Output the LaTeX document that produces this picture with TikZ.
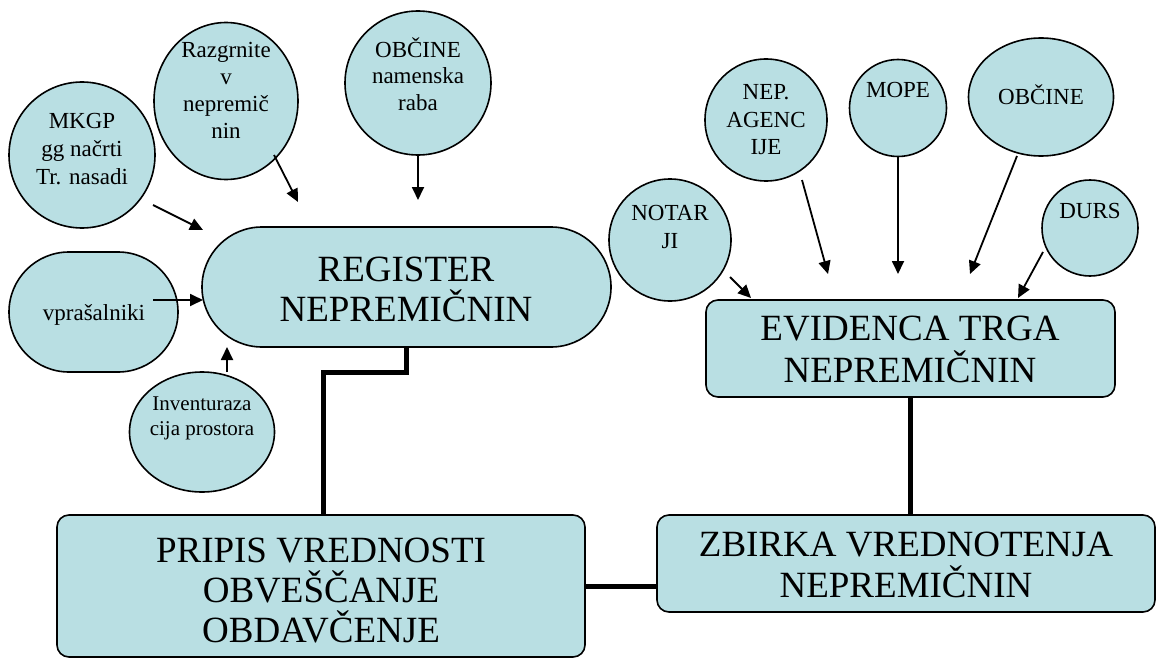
\documentclass[tikz,border=0pt]{standalone}
\usepackage{fontspec}
\setmainfont{Liberation Serif}
\usetikzlibrary{shapes.geometric,arrows.meta,calc}
\definecolor{boxfill}{RGB}{185,223,227}
\begin{document}
\begin{tikzpicture}[x=1pt,y=-1pt,
  shp/.style={draw=black,line width=1.6pt,fill=boxfill,inner sep=0pt},
  circ/.style={shp,ellipse},
  pill/.style={shp,rectangle,rounded corners=60pt},
  rbox/.style={shp,rectangle,rounded corners=12pt},
  small/.style={align=center,font=\fontsize{23}{28}\selectfont,inner sep=0pt},
  tiny/.style={align=center,font=\fontsize{21}{25}\selectfont,inner sep=0pt},
  big/.style={align=center,font=\fontsize{37}{42}\selectfont,inner sep=0pt},
  arr/.style={line width=1.8pt,-{Triangle[length=13pt,width=12pt]}},
  link/.style={line width=5pt}]
\useasboundingbox (0,0) rectangle (1156,658);

% shapes
\node[circ,minimum width=146pt,minimum height=146pt] (mkgp) at (82,155) {};
\node[circ,minimum width=144pt,minimum height=157pt] (razg) at (226,101) {};
\node[circ,minimum width=146pt,minimum height=144pt] (obcn) at (418,83) {};
\node[pill,minimum width=169pt,minimum height=120pt] (vpr) at (93.5,312) {};
\node[circ,minimum width=145pt,minimum height=120pt] (inv) at (202,432) {};
\node[pill,minimum width=409pt,minimum height=120pt] (reg) at (406.5,287) {};
\node[circ,minimum width=122pt,minimum height=122pt] (nep) at (766,120) {};
\node[circ,minimum width=122pt,minimum height=122pt] (notar) at (670,240) {};
\node[circ,minimum width=97pt,minimum height=97pt] (mope) at (898,108) {};
\node[circ,minimum width=145pt,minimum height=118pt] (obcr) at (1041,97) {};
\node[circ,minimum width=96pt,minimum height=96pt] (durs) at (1090,228) {};
\node[rbox,minimum width=409pt,minimum height=97pt] (evid) at (910.5,348.5) {};
\node[rbox,minimum width=528pt,minimum height=142pt] (prip) at (321,586) {};
\node[rbox,minimum width=498pt,minimum height=97pt] (zbir) at (906,563.5) {};

% texts
\node[small] (mkgp-t) at (82,149) {MKGP\\gg načrti\\Tr. nasadi};
\node[small,font=\fontsize{23}{27}\selectfont] (razg-t) at (226,90) {Razgrnite\\v\\nepremič\\nin};
\node[small,font=\fontsize{23}{26.5}\selectfont] (obcn-t) at (418,74) {OBČINE\\namenska\\raba};
\node[small] (vpr-t) at (94,315) {vprašalniki};
\node[tiny] (inv-t) at (202,418) {Inventuraza\\cija prostora};
\node[big,font=\fontsize{37}{40}\selectfont] (reg-t) at (406,289) {REGISTER\\NEPREMIČNIN};
\node[small,font=\fontsize{23}{27.5}\selectfont] (nep-t) at (766,120) {NEP.\\AGENC\\IJE};
\node[small] (notar-t) at (670,226.5) {NOTAR\\JI};
\node[small] (mope-t) at (898,89.5) {MOPE};
\node[small] (obcr-t) at (1041,95) {OBČINE};
\node[small] (durs-t) at (1090,210.5) {DURS};
\node[big] (evid-t) at (910,349) {EVIDENCA TRGA\\NEPREMIČNIN};
\node[big,font=\fontsize{37}{40}\selectfont] (prip-t) at (321,591) {PRIPIS VREDNOSTI\\OBVEŠČANJE\\OBDAVČENJE};
\node[big,font=\fontsize{37}{41}\selectfont] (zbir-t) at (906,565) {ZBIRKA VREDNOTENJA\\NEPREMIČNIN};

% arrow end points
\coordinate (a1s) at (153,205); \coordinate (a1e) at (203,230);
\coordinate (a2s) at (274,155); \coordinate (a2e) at (298,202);
\coordinate (a3e) at (418,200);
\coordinate (a4s) at (153,300); \coordinate (a4e) at (203,300);
\coordinate (a5s) at (227,372); \coordinate (a5e) at (227,347);
\coordinate (a6s) at (730,277); \coordinate (a6e) at (751,298);
\coordinate (a7s) at (802,180); \coordinate (a7e) at (828,274);
\coordinate (a8e) at (898,274);
\coordinate (a9s) at (1017,156); \coordinate (a9e) at (970,274);
\coordinate (a10s) at (1043,252); \coordinate (a10e) at (1018,298);

\draw[arr] (a1s) -- (a1e);
\draw[arr] (a2s) -- (a2e);
\draw[arr] (obcn.south) -- (a3e);
\draw[arr] (a4s) -- (a4e);
\draw[arr] (a5s) -- (a5e);
\draw[arr] (a6s) -- (a6e);
\draw[arr] (a7s) -- (a7e);
\draw[arr] (mope.south) -- (a8e);
\draw[arr] (a9s) -- (a9e);
\draw[arr] (a10s) -- (a10e);

% thick links
\coordinate (j1) at (323,372);
\draw[link] (reg.south) |- (j1) -- (j1 |- prip.north);
\draw[link] (evid.south) -- (evid.south |- zbir.north);
\draw[link] (prip.east) -- (prip.east -| zbir.west);
\end{tikzpicture}
\end{document}
